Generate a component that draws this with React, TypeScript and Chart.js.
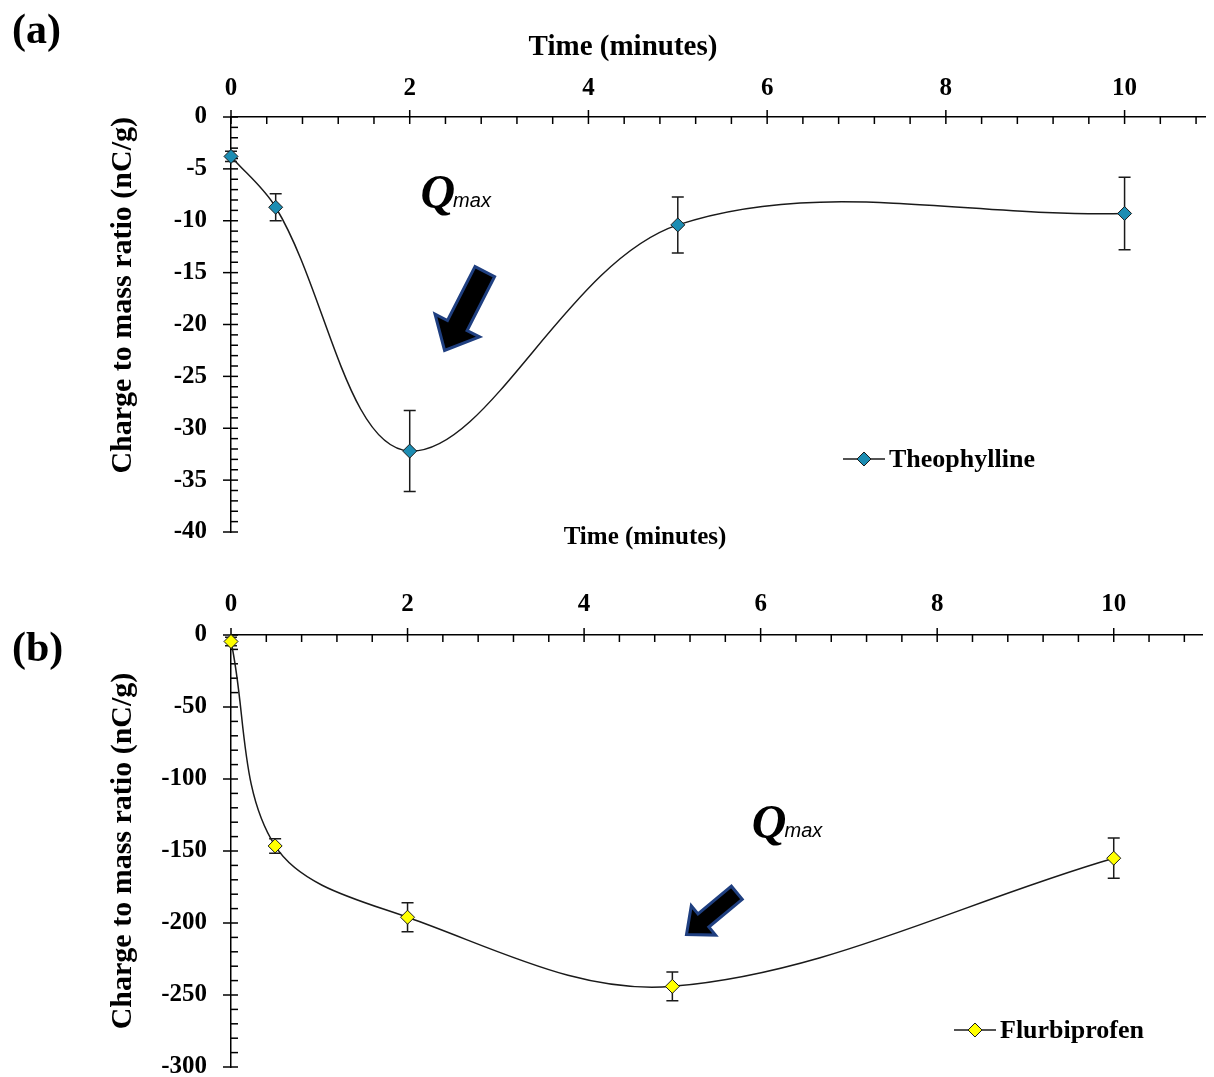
import React, { useEffect, useRef } from 'react';
import { Chart, registerables } from 'chart.js';

Chart.register(...registerables);

// ---------------- data ----------------
const timeMinutes = [0, 0.5, 2, 5, 10];
const theophyllineCharge = [-3.8, -8.7, -32.2, -10.4, -9.3];
const theophyllineError = [0.5, 1.3, 3.9, 2.7, 3.5];
const flurbiprofenCharge = [-4.5, -146.5, -196, -244, -155];
const flurbiprofenError = [3, 5, 10, 10, 14];

const timeTicks = [0, 2, 4, 6, 8, 10];
const chargeTicksA = [0, -5, -10, -15, -20, -25, -30, -35, -40];
const chargeTicksB = [0, -50, -100, -150, -200, -250, -300];

const seriesNames = ['Theophylline', 'Flurbiprofen'];
const panelLabels = ['(a)', '(b)'];
const xAxisTitle = 'Time (minutes)';
const yAxisTitle = 'Charge to mass ratio (nC/g)';
const qMaxMain = 'Q';
const qMaxSub = 'max';

const SERIF = "'Liberation Serif', 'Times New Roman', serif";
const SANS = "'Liberation Sans', Arial, sans-serif";

type PanelCfg = {
  top: number;
  width: number;
  height: number;
  padRight: number;
  padBottom: number;
  topAxisHeight: number;
  leftAxisWidth: number;
  xTickPad: number;
  xMax: number;
  xMinor: number;
  xMajor: number;
  yMin: number;
  yMinor: number;
  yMajor: number;
  yTicks: number[];
  yTitleAlign: 'start' | 'center' | 'end';
  values: number[];
  errors: number[];
  name: string;
  color: string;
  xTitle: { x: number; y: number; size: number };
  panelLabel: { text: string; x: number; y: number };
  legend: { x: number; y: number };
  arrow: { tail: [number, number]; tip: [number, number]; shaft: number; head: number; headLen: number };
  q: { x: number; y: number };
};

const panelA: PanelCfg = {
  top: 0,
  width: 1214,
  height: 545,
  padRight: 9,
  padBottom: 13,
  topAxisHeight: 117,
  leftAxisWidth: 231,
  xTickPad: 13,
  xMax: 10.9,
  xMinor: 0.4,
  xMajor: 2,
  yMin: -40,
  yMinor: 1,
  yMajor: 5,
  yTicks: chargeTicksA,
  yTitleAlign: 'end',
  values: theophyllineCharge,
  errors: theophyllineError,
  name: seriesNames[0],
  color: '#1C8DB3',
  xTitle: { x: 623, y: 48, size: 29 },
  panelLabel: { text: panelLabels[0], x: 12, y: 32 },
  legend: { x: 843, y: 459 },
  arrow: { tail: [2.84, -14.9], tip: [2.39, -22.5], shaft: 22, head: 50, headLen: 28 },
  q: { x: 2.12, y: -8.8 },
};

const panelB: PanelCfg = {
  top: 520,
  width: 1214,
  height: 557,
  padRight: 12,
  padBottom: 10,
  topAxisHeight: 115,
  leftAxisWidth: 231,
  xTickPad: 15,
  xMax: 11,
  xMinor: 0.4,
  xMajor: 2,
  yMin: -300,
  yMinor: 10,
  yMajor: 50,
  yTicks: chargeTicksB,
  yTitleAlign: 'center',
  values: flurbiprofenCharge,
  errors: flurbiprofenError,
  name: seriesNames[1],
  color: '#FFFF00',
  xTitle: { x: 645, y: 18, size: 25 },
  panelLabel: { text: panelLabels[1], x: 12, y: 130 },
  legend: { x: 954, y: 510 },
  arrow: { tail: [5.73, -179], tip: [5.16, -208], shaft: 17, head: 38, headLen: 22 },
  q: { x: 5.9, y: -141 },
};

function isMultiple(v: number, step: number) {
  const r = v / step;
  return Math.abs(r - Math.round(r)) < 1e-6;
}

function drawDiamond(ctx: CanvasRenderingContext2D, x: number, y: number, r: number, fill: string) {
  ctx.beginPath();
  ctx.moveTo(x - r, y);
  ctx.lineTo(x, y - r);
  ctx.lineTo(x + r, y);
  ctx.lineTo(x, y + r);
  ctx.closePath();
  ctx.fillStyle = fill;
  ctx.fill();
  ctx.lineWidth = 1;
  ctx.strokeStyle = '#1a1a1a';
  ctx.stroke();
}

function makeDecor(p: PanelCfg) {
  return {
    id: 'decor',
    beforeDatasetsDraw(chart: any) {
      const { ctx, chartArea } = chart;
      const xs = chart.scales.x;
      const ys = chart.scales.y;
      ctx.save();
      ctx.strokeStyle = '#000';
      ctx.lineWidth = 1.5;
      // x ticks (top axis)
      const y0 = chartArea.top;
      for (let i = 0; i * p.xMinor <= p.xMax + 1e-9; i++) {
        const v = i * p.xMinor;
        const px = xs.getPixelForValue(v);
        const major = isMultiple(v, p.xMajor);
        ctx.beginPath();
        ctx.moveTo(px, major ? y0 - 7 : y0);
        ctx.lineTo(px, y0 + 7);
        ctx.stroke();
      }
      // y ticks (left axis)
      const x0 = chartArea.left;
      for (let i = 0; -i * p.yMinor >= p.yMin - 1e-9; i++) {
        const v = -i * p.yMinor;
        const py = ys.getPixelForValue(v);
        const major = isMultiple(v, p.yMajor);
        ctx.beginPath();
        ctx.moveTo(major ? x0 - 8 : x0, py);
        ctx.lineTo(x0 + 7, py);
        ctx.stroke();
      }
      // error bars
      ctx.strokeStyle = '#1a1a1a';
      ctx.lineWidth = 1.5;
      timeMinutes.forEach((t, i) => {
        const px = xs.getPixelForValue(t);
        const hi = ys.getPixelForValue(p.values[i] + p.errors[i]);
        const lo = ys.getPixelForValue(p.values[i] - p.errors[i]);
        ctx.beginPath();
        ctx.moveTo(px, hi);
        ctx.lineTo(px, lo);
        ctx.moveTo(px - 6, hi);
        ctx.lineTo(px + 6, hi);
        ctx.moveTo(px - 6, lo);
        ctx.lineTo(px + 6, lo);
        ctx.stroke();
      });
      ctx.restore();
    },
    afterDatasetsDraw(chart: any) {
      const { ctx } = chart;
      const xs = chart.scales.x;
      const ys = chart.scales.y;
      ctx.save();
      // block arrow
      const a = p.arrow;
      const tx = xs.getPixelForValue(a.tail[0]);
      const ty = ys.getPixelForValue(a.tail[1]);
      const hx = xs.getPixelForValue(a.tip[0]);
      const hy = ys.getPixelForValue(a.tip[1]);
      const len = Math.hypot(hx - tx, hy - ty);
      const ux = (hx - tx) / len;
      const uy = (hy - ty) / len;
      const nx = -uy;
      const ny = ux;
      const bx = hx - ux * a.headLen;
      const by = hy - uy * a.headLen;
      const s = a.shaft / 2;
      const h = a.head / 2;
      ctx.beginPath();
      ctx.moveTo(tx + nx * s, ty + ny * s);
      ctx.lineTo(bx + nx * s, by + ny * s);
      ctx.lineTo(bx + nx * h, by + ny * h);
      ctx.lineTo(hx, hy);
      ctx.lineTo(bx - nx * h, by - ny * h);
      ctx.lineTo(bx - nx * s, by - ny * s);
      ctx.lineTo(tx - nx * s, ty - ny * s);
      ctx.closePath();
      ctx.fillStyle = '#000';
      ctx.fill();
      ctx.lineJoin = 'miter';
      ctx.lineWidth = 3;
      ctx.strokeStyle = '#1F3F80';
      ctx.stroke();
      // Q max
      const qx = xs.getPixelForValue(p.q.x);
      const qy = ys.getPixelForValue(p.q.y);
      ctx.fillStyle = '#000';
      ctx.textBaseline = 'alphabetic';
      ctx.textAlign = 'left';
      ctx.font = `italic bold 48px ${SERIF}`;
      ctx.fillText(qMaxMain, qx, qy);
      const qw = ctx.measureText(qMaxMain).width;
      ctx.font = `italic 20px ${SANS}`;
      ctx.fillText(qMaxSub, qx + qw - 2, qy - 1);
      ctx.restore();
    },
    afterDraw(chart: any) {
      const { ctx } = chart;
      ctx.save();
      ctx.fillStyle = '#000';
      // x-axis title
      ctx.font = `bold ${p.xTitle.size}px ${SERIF}`;
      ctx.textAlign = 'center';
      ctx.textBaseline = 'middle';
      ctx.fillText(xAxisTitle, p.xTitle.x, p.xTitle.y);
      // panel label
      ctx.font = `bold 42px ${SERIF}`;
      ctx.textAlign = 'left';
      ctx.fillText(p.panelLabel.text, p.panelLabel.x, p.panelLabel.y);
      // legend
      const lx = p.legend.x;
      const ly = p.legend.y;
      ctx.strokeStyle = '#1a1a1a';
      ctx.lineWidth = 1.5;
      ctx.beginPath();
      ctx.moveTo(lx, ly);
      ctx.lineTo(lx + 42, ly);
      ctx.stroke();
      drawDiamond(ctx, lx + 21, ly, 7, p.color);
      ctx.fillStyle = '#000';
      ctx.font = `bold 26px ${SERIF}`;
      ctx.textAlign = 'left';
      ctx.textBaseline = 'middle';
      ctx.fillText(p.name, lx + 46, ly + 1);
      ctx.restore();
    },
  };
}

function Panel({ cfg }: { cfg: PanelCfg }) {
  const ref = useRef<HTMLCanvasElement>(null);
  useEffect(() => {
    const canvas = ref.current;
    if (!canvas) return;
    const points = timeMinutes.map((t, i) => ({ x: t, y: cfg.values[i] }));
    const chart = new Chart(canvas, {
      type: 'line',
      data: {
        datasets: [
          {
            label: cfg.name,
            data: points,
            borderColor: '#1a1a1a',
            borderWidth: 1.5,
            tension: 0.35,
            fill: false,
            pointStyle: 'rectRot',
            pointRadius: 7,
            pointBackgroundColor: cfg.color,
            pointBorderColor: '#1a1a1a',
            pointBorderWidth: 1,
            clip: false as any,
          },
        ],
      },
      plugins: [makeDecor(cfg) as any],
      options: {
        responsive: false,
        animation: false,
        devicePixelRatio: 1,
        events: [],
        layout: { padding: { left: 0, top: 0, right: cfg.padRight, bottom: cfg.padBottom } },
        plugins: { legend: { display: false }, tooltip: { enabled: false } },
        scales: {
          x: {
            type: 'linear',
            position: 'top',
            min: 0,
            max: cfg.xMax,
            grid: { display: false, drawTicks: false, tickLength: 0 },
            border: { display: true, color: '#000', width: 1.5 },
            ticks: {
              color: '#000',
              padding: cfg.xTickPad,
              font: { family: SERIF, size: 25, weight: 'bold' },
              callback: (v: any) => String(v),
            },
            afterBuildTicks: (s: any) => {
              s.ticks = timeTicks.map((v) => ({ value: v }));
            },
            afterFit: (s: any) => {
              s.height = cfg.topAxisHeight;
              s.paddingLeft = 0;
              s.paddingRight = 0;
            },
          },
          y: {
            type: 'linear',
            position: 'left',
            min: cfg.yMin,
            max: 0,
            grid: { display: false, drawTicks: false, tickLength: 0 },
            border: { display: true, color: '#000', width: 1.5 },
            ticks: {
              color: '#000',
              padding: 24,
              font: { family: SERIF, size: 25, weight: 'bold', lineHeight: 0.8 },
              callback: (v: any) => String(v),
            },
            title: {
              display: true,
              text: yAxisTitle,
              color: '#000',
              align: cfg.yTitleAlign,
              font: { family: SERIF, size: 30, weight: 'bold', lineHeight: 1.2 },
              padding: { top: 105, bottom: 0 },
            },
            afterBuildTicks: (s: any) => {
              s.ticks = cfg.yTicks.map((v) => ({ value: v }));
            },
            afterFit: (s: any) => {
              s.width = cfg.leftAxisWidth;
              s.paddingTop = 0;
              s.paddingBottom = 0;
            },
          },
        },
      } as any,
    });
    return () => chart.destroy();
  }, [cfg]);
  return (
    <div style={{ position: 'absolute', left: 0, top: cfg.top, width: cfg.width, height: cfg.height }}>
      <canvas ref={ref} width={cfg.width} height={cfg.height} style={{ display: 'block', width: cfg.width, height: cfg.height }} />
    </div>
  );
}

export default function App() {
  return (
    <div style={{ position: 'absolute', left: 0, top: 0, width: 1214, height: 1077, background: '#fff', overflow: 'hidden' }}>
      <Panel cfg={panelA} />
      <Panel cfg={panelB} />
    </div>
  );
}
